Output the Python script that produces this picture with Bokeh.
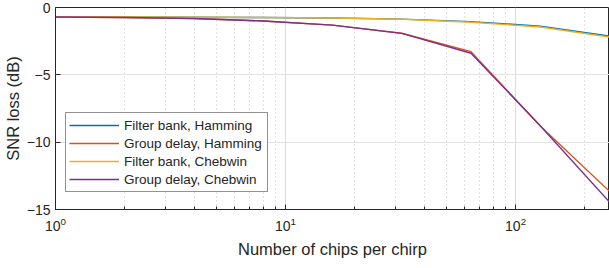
from bokeh.plotting import figure
from bokeh.models import FixedTicker, Legend, LegendItem, Range1d
from bokeh.embed import file_html
from bokeh.resources import INLINE

chips = [1, 2, 4, 8, 16, 32, 64, 128, 256]
fb_hamming = [-0.70, -0.71, -0.72, -0.74, -0.78, -0.86, -1.05, -1.38, -2.12]
gd_hamming = [-0.70, -0.74, -0.82, -1.00, -1.31, -1.91, -3.28, -8.80, -13.65]
fb_chebwin = [-0.70, -0.71, -0.72, -0.74, -0.78, -0.87, -1.09, -1.45, -2.20]
gd_chebwin = [-0.70, -0.74, -0.82, -1.00, -1.31, -1.92, -3.40, -8.78, -14.45]

labels = ["Filter bank, Hamming", "Group delay, Hamming",
          "Filter bank, Chebwin", "Group delay, Chebwin"]
colors = ["#0072BD", "#D95319", "#EDB120", "#7E2F8E"]
series = [fb_hamming, gd_hamming, fb_chebwin, gd_chebwin]

FONT = "Liberation Sans"
AX = "#262626"

p = figure(width=609, height=260, x_axis_type="log",
           x_range=Range1d(1, 256), y_range=Range1d(-15, 0),
           output_backend="svg", toolbar_location=None,
           min_border_left=49, min_border_right=0, min_border_top=7,
           min_border_bottom=10)
p.outline_line_color = AX
p.outline_line_width = 1

renderers = []
for ys, c in zip(series, colors):
    r = p.line(chips, ys, line_color=c, line_width=1.4)
    renderers.append(r)

xa = p.xaxis[0]
ya = p.yaxis[0]
ya.ticker = FixedTicker(ticks=[-15, -10, -5, 0])
for ax in (xa, ya):
    ax.axis_line_color = AX
    ax.major_tick_line_color = AX
    ax.minor_tick_line_color = AX
    ax.major_tick_in = 5
    ax.major_tick_out = 0
    ax.minor_tick_in = 3
    ax.minor_tick_out = 0
    ax.major_label_text_font = FONT
    ax.major_label_text_font_size = "14px"
    ax.major_label_text_color = AX
    ax.axis_label_text_font = FONT
    ax.axis_label_text_font_size = "16.5px"
    ax.axis_label_text_font_style = "normal"
    ax.axis_label_text_color = AX
ya.minor_tick_line_color = None
ya.major_label_standoff = 5
ya.axis_label_standoff = 2
xa.major_label_standoff = 7
xa.axis_label_standoff = 6
xa.axis_label = "Number of chips per chirp"
ya.axis_label = "SNR loss (dB)"

p.xgrid.grid_line_color = "#dcdcdc"
p.xgrid.minor_grid_line_color = "#c8c8c8"
p.xgrid.minor_grid_line_dash = "1 3"
p.ygrid.grid_line_color = "#e2e2e2"

legend = Legend(items=[LegendItem(label=l, renderers=[r]) for l, r in zip(labels, renderers)],
                location=(10, 17), padding=3, spacing=0, margin=0,
                glyph_width=50, glyph_height=18, label_height=18, label_width=140,
                label_standoff=5, label_text_font=FONT, label_text_font_size="13.5px",
                label_text_color=AX, border_line_color=AX, border_line_width=1,
                background_fill_color="white", background_fill_alpha=1)
p.add_layout(legend, "center")

open("out.html", "w").write(file_html(p, INLINE))
